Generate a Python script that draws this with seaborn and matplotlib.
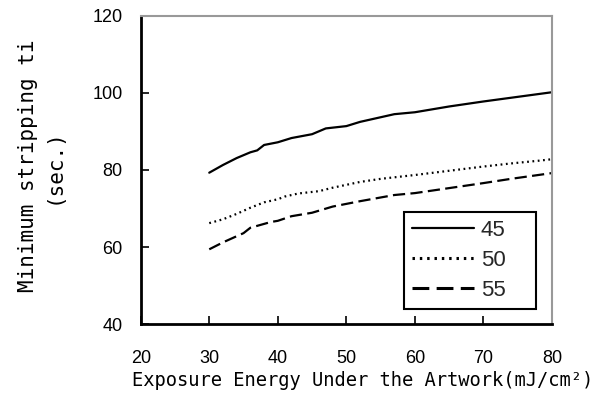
import numpy as np
import pandas as pd
import matplotlib
matplotlib.use("Agg")
import matplotlib.pyplot as plt
import seaborn as sns

# Minimum stripping time (sec.) vs exposure energy, one curve per condition
x_45 = [30, 32, 34, 36, 37, 38, 40, 42, 45, 47, 50, 52, 57, 60, 65, 70, 75, 80]
y_45 = [79.3, 81.3, 83.1, 84.6, 85.1, 86.5, 87.2, 88.3, 89.3, 90.8, 91.4, 92.5,
        94.5, 95.0, 96.5, 97.8, 99.0, 100.2]

x_50 = [30, 32, 34, 36, 38, 40, 41, 43, 46, 48, 52, 55, 60, 65, 70, 74, 78, 80]
y_50 = [66.2, 67.2, 68.6, 70.2, 71.6, 72.4, 73.1, 73.9, 74.5, 75.4, 76.9, 77.7,
        78.7, 79.8, 80.9, 81.7, 82.4, 82.8]

x_55 = [30, 32, 35, 36, 39, 40, 42, 45, 48, 52, 57, 60, 65, 70, 74, 78, 80]
y_55 = [59.4, 61.2, 63.6, 65.0, 66.5, 66.8, 68.0, 68.9, 70.5, 71.9, 73.5, 74.0,
        75.3, 76.6, 77.7, 78.7, 79.2]

series_names = ["45", "50", "55"]
x_ticks = [20, 30, 40, 50, 60, 70, 80]
y_ticks = [40, 60, 80, 100, 120]

df = pd.concat([
    pd.DataFrame({"energy": x_45, "time": y_45, "series": "45"}),
    pd.DataFrame({"energy": x_50, "time": y_50, "series": "50"}),
    pd.DataFrame({"energy": x_55, "time": y_55, "series": "55"}),
], ignore_index=True)

sns.set_theme(style="white")
plt.rcParams["font.family"] = ["Liberation Sans", "DejaVu Sans"]

fig = plt.figure(figsize=(5.98, 4.11), dpi=100)
ax = fig.add_axes([140.7 / 598, (411 - 324) / 411, 411.3 / 598, 308 / 411])

line_dashes = {"45": "", "50": (0.8, 1.6), "55": (5.5, 2.4)}
sns.lineplot(data=df, x="energy", y="time", hue="series", style="series",
             hue_order=series_names, style_order=series_names,
             palette=["black"] * 3, dashes=line_dashes, ax=ax,
             linewidth=1.6, estimator=None, sort=False)

for ln in ax.get_lines():
    lbl = ln.get_label()
    if lbl == "50" or lbl == "55":
        ln.set_linewidth(2.2)

ax.set_xlim(20, 80)
ax.set_ylim(40, 120)
ax.set_xticks(x_ticks)
ax.set_yticks(y_ticks)
ax.tick_params(axis="both", direction="in", length=6, width=1.2, color="black",
               labelsize=13, labelcolor="black")
ax.tick_params(axis="x", pad=19, bottom=True, top=False)
ax.tick_params(axis="y", pad=13, left=True, right=False)

for side in ["left", "bottom"]:
    ax.spines[side].set_color("black")
    ax.spines[side].set_linewidth(2.0)
for side in ["top", "right"]:
    ax.spines[side].set_color("#999999")
    ax.spines[side].set_linewidth(1.5)

mono = ["DejaVu Sans Mono"]
ax.set_xlabel("Exposure Energy Under the Artwork(mJ/cm²)", fontsize=13.5,
              family=mono, color="black")
ax.xaxis.set_label_coords((362.5 - 140.7) / 411.3, (324 - 380) / 308)
ax.xaxis.label.set_va("center")

ax.set_ylabel("Minimum stripping ti\n(sec.)", fontsize=15, family=mono,
              color="black", linespacing=1.35, multialignment="center")
ax.yaxis.set_label_coords((41 - 140.7) / 411.3, (324 - 166) / 308)
ax.yaxis.label.set_va("center")

# legend box spans a fixed width inside the lower-right corner
leg_x0 = (404 - 140.7) / 411.3
leg_w = (536 - 404) / 411.3
leg_y0 = (324 - 309) / 308
handles, labels = ax.get_legend_handles_labels()
leg = ax.legend(handles, labels, loc="lower right",
                bbox_to_anchor=(leg_x0, leg_y0, leg_w, 0.3), mode="expand",
                borderaxespad=0, fontsize=16, frameon=True, fancybox=False,
                handlelength=2.8, handletextpad=0.3, labelspacing=0.42,
                borderpad=0.35, title=None)
leg.get_frame().set_edgecolor("black")
leg.get_frame().set_linewidth(1.5)
leg.get_frame().set_facecolor("white")
leg.get_frame().set_alpha(1)

fig.savefig("out.png", dpi=100)
